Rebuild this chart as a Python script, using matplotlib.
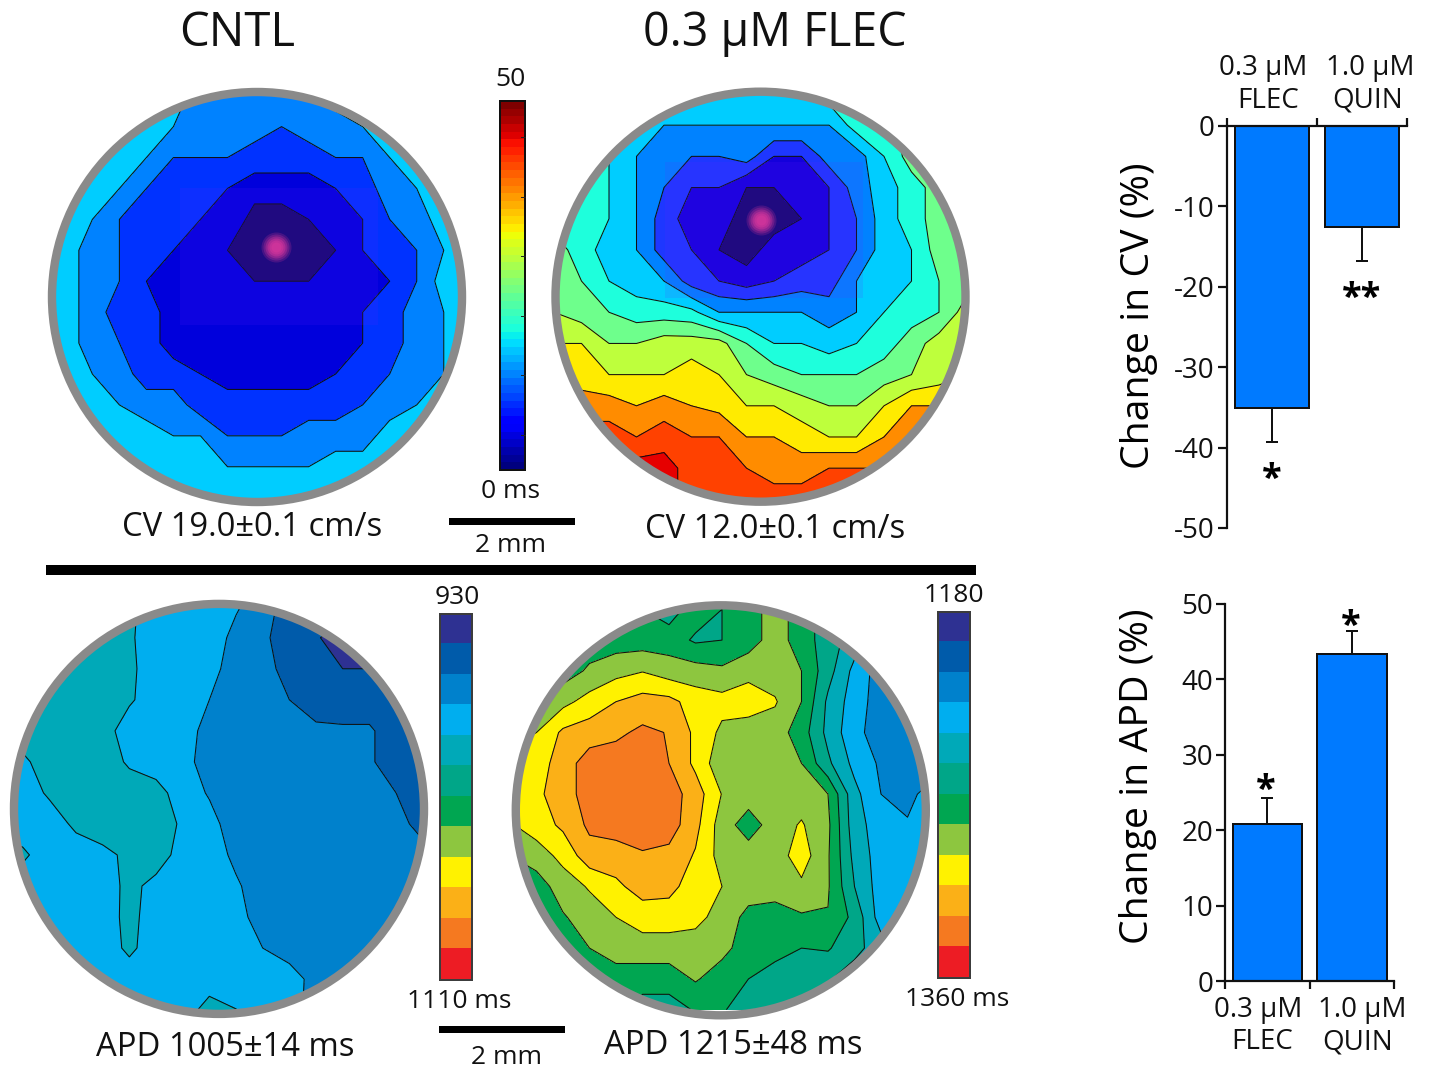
import numpy as np
import matplotlib
matplotlib.use("Agg")
import matplotlib.pyplot as plt
from matplotlib.patches import Circle, Rectangle
from matplotlib.colors import ListedColormap

plt.rcParams['font.family'] = ['Open Sans', 'DejaVu Sans']
plt.rcParams['axes.unicode_minus'] = False

# ---- band values of the four maps (one row per scan line)
cv_cntl = [
 [4,4,4,4,4,4,3,3,3,3,3,4,4,4,4,4,4],
 [4,4,4,4,4,3.5,3,3,3,2.5,3,3,3.5,4,4,4,4],
 [4,4,4,4,3.5,2.5,2.5,2.5,2,2,2,2.5,2.5,3.5,4,4,4],
 [4,4,4,3.5,2.5,2,2,1.5,1,1,1,1.5,2,3,3.5,4,4],
 [4,4,3.5,2.5,2,2,1.5,1.5,0,0,.5,1,1.5,2.5,3,4,4],
 [4,4,3,2.5,2,1.5,1,.5,0,0,0,.5,1.5,2,2.5,3.5,4],
 [4,4,3,2.5,1.5,1,1,1,.5,.5,.5,1,1,1.5,2.5,4,4],
 [4,4,3,2,2,1,1,1,1,1,1,1,1.5,2,3,3.5,4],
 [4,4,3,2.5,2,1,1,1,1,1,1,1,1.5,2,3,3.5,4],
 [4,4,3.5,3,2,2,1.5,1,1,1,1,1.5,2,2.5,3,3.5,4],
 [4,4,4,3.5,3,3,2,2,2,2,2,2,2.5,3,3.5,4,4],
 [4,4,4,4,4,3.5,3.5,2.5,2.5,2.5,3,3,3,4,4,4,4],
 [4,4,4,4,4,4,4,3.5,3.5,3.5,3.5,4,4,4,4,4,4],
 [4,4,4,4,4,4,4,4,4,4,4,4,4,4,4,4,4],
]
cv_flec = [
 [4,4,4,4,4,4,4,4,4,4,5,5,5,5,5,5],
 [4,4,4,4,3.5,3.5,3.5,3.5,3.5,3.5,3.5,5,5,6,6,6],
 [5,5,4.5,3.5,3,2.5,2.5,3,1.5,1.5,3,3,4.5,6,6,6],
 [5,5,4.5,3.5,2.5,1.5,1.5,.5,.5,1,1.5,3,4,5,6,6],
 [5,5,4.5,3.5,2,1,1,0,0,.5,1.5,2.5,4,5,6,6],
 [6,5,4,3.5,2,1.5,.5,0,1,1,1.5,2.5,4,4.5,6,6],
 [6,5.5,4.5,4,3.5,2,1.5,1,1.5,2,2,3.5,4,4.5,5.5,6],
 [6.5,6,5.5,5,5,4.8,3.5,3.5,3.5,3.5,3,3.5,4.5,5,5.5,7],
 [7.5,7.5,6.5,6.5,7,7,6.9,5.5,4.5,4.5,4,4.5,5,6,7,7],
 [8,8,7.5,7.5,7.5,8,7.5,6.5,6,5.5,5.5,5.5,6,6.5,7,7.5],
 [9,9,9,8.5,9,8.5,8.2,7.5,7.5,7,6.5,6.5,7.5,8.5,8.5,8.5],
 [10,10,10,9.5,10,9.5,9.5,8.5,8.5,8,7.5,7.5,8.5,9,9,9],
 [10,10,10,11,11,10,10,9.5,9,9,9.5,9.5,9.5,9.5,9.5,9.5],
 [10,10,10,11,11,10,10,10,10,10,10,10,10,10,10,10],
]
apd_cntl = [
 [4,4,4,4,4,3.7,3,3,3,2.6,2,1,1,1,1,1,1],
 [4,4,4,4,4,3.63,3,3,3,2.23,1.69,1,.6,0,0,0,0],
 [4,4,4,4,4,3.7,3,3,2.87,2,2,1,1,.5,.5,1,1],
 [4,4,4,4,4,3.63,3,3,2.5,2,2,1.5,1,1,1,1,1],
 [4,4,4,4,3.93,3,3,3,2.11,2,2,2,1.7,1.63,1.63,1,1],
 [3,3.3,4,4,4,3.36,3,2.89,2,2,2,2,2,2,1.63,1,1],
 [3,3,3.64,4,4,4,3.88,3,2.41,2,2,2,2,2,2,1.5,1],
 [3,3,3,3.7,4,4,4,3.36,2.83,2,2,2,2,2,2,2,1],
 [4,3.67,3,3,3.26,3.7,4,3.1,3,2.28,2,2,2,2,2,2,2],
 [3,3,3,3,3,3.77,3.2,3,3,2.63,2,2,2,2,2,2,2],
 [3,3,3,3,3,3.8,3,3,3,2.9,2,2,2,2,2,2,2],
 [3,3,3,3,3,3.7,3,3,3,3,2.5,2,2,2,2,2,2],
 [3,3,3,3,3,3,3,3,3,3,3,3,2.1,2,2,2,2],
 [3,3,3,3,3,3,3,3,3.9,3.52,3,3,2,2,2,2,2],
]
apd_flec = [
 [6,6,6,6,6,5.5,5,6,5.5,6,7,6,5,4,3,3,3],
 [6,6,6,6,6,6,6,5.35,5.5,6,7,6,5,4,3,3,3],
 [6,6,6,6.66,7.16,7.45,7,6.92,6.7,7.2,7,6.5,4.9,3.2,2,2,2],
 [7,7,7.2,7.9,8.5,8.9,8.8,8.05,7.85,8,7.6,6.5,4.3,3,2,2,2],
 [7,7.5,8.7,9,9.3,9.7,9.45,8.28,7.28,7,7,6,4.2,2.8,2,2,2],
 [8,8,9,10,10,10,9.5,8.27,6.8,7,7,6.5,4.7,3.2,2.34,2,2],
 [8,8.3,9,10,10,10,10,9,7.46,7,7,7,6.5,3.8,2.5,2.2,3],
 [7.4,8,8.7,9.7,10,10,10,8.8,7,6,7,7.6,6.7,3.9,3,2.6,3],
 [6.5,7,7.8,9.1,9,9.4,9.2,8.4,7.1,7,7,8,6.6,4.2,3,3,3],
 [6,6,7,7.6,8.3,8.9,8.8,8,7.5,7,7,7.3,6.6,4.5,3,3,3],
 [6,6,6.4,7,7.5,8,8,7.8,7.1,6.2,6,6.37,6.45,5.2,3,3,3],
 [6,6,6,6.5,7,7,7,7,6.8,6,5.9,5.5,5.6,4.8,4,4,4],
 [6,6,6,6,6,6,6,6.6,6,5.5,5,5,4.6,4,4,4,4],
 [6,6,6,6,6,5,5,5.6,5.6,5,5,5,5,4,4,4,4],
]
cv_cntl_colors = ['#16086f', '#0000dc', '#0032ff', '#0082ff', '#00cdff']
cv_flec_colors = ['#16086f', '#1400dc', '#1e37ff', '#0082ff', '#00cdff', '#1effdc',
                  '#6eff8c', '#beff3c', '#ffeb00', '#ff8c00', '#ff4100', '#e60000']
apd_colors = ['#2e3192', '#005baa', '#0081cc', '#00aeef', '#00a9b8', '#00a688',
              '#00a651', '#8dc63f', '#fff200', '#fbb017', '#f57920', '#ed1c24']

# ---- bar chart values
groups_cv = ['0.3 µM', '1.0 µM']
drugs = ['FLEC', 'QUIN']
cv_change = [-35.1, -12.6]
cv_err = [4.2, 4.2]
apd_change = [20.8, 43.4]
apd_err = [3.5, 3.0]
cv_ticks = [0, -10, -20, -30, -40, -50]
apd_ticks = [0, 10, 20, 30, 40, 50]
bar_blue = '#007aff'

W, H = 1429, 1068
px = 100 / 72
fig = plt.figure(figsize=(W / 100, H / 100), dpi=100)
bg = fig.add_axes([0, 0, 1, 1])
bg.set_axis_off()


def draw_map(grid, colors, x0, y0, dx, dy, cx, cy):
    z = np.array(grid, dtype=float)
    x = x0 + dx * np.arange(z.shape[1])
    y = y0 + dy * np.arange(z.shape[0])
    n = len(colors)
    bounds = [-1] + [i + .5 for i in range(n - 1)] + [n + 1]
    clip = Circle((cx, cy), 205, transform=bg.transData, fc='none', ec='none')
    bg.add_patch(clip)
    cf = bg.contourf(x, y, z, levels=bounds, colors=colors, zorder=2)
    cf.set_clip_path(clip)
    cl = bg.contour(x, y, z, levels=bounds[1:-1], colors='#101010', linewidths=0.75, zorder=3)
    cl.set_clip_path(clip)
    return clip


def ring(cx, cy):
    bg.add_patch(Circle((cx, cy), 205, fc='none', ec='#8a8a8a', lw=8.4 / px, zorder=6))


def overlay(x, y, w, h, clip):
    r = Rectangle((x, y), w, h, fc='#7020ff', ec='none', alpha=0.12, zorder=4)
    bg.add_patch(r)
    r.set_clip_path(clip)


def spot(cx, cy):
    for r, a in zip([15, 13, 11, 9, 7, 5], [.18, .22, .28, .32, .3, .25]):
        bg.scatter([cx], [cy], s=(2 * r / px) ** 2, c='#f03ca0', alpha=a, lw=0, zorder=5)


c1 = draw_map(cv_cntl, cv_cntl_colors, 38.3, 95.7, 27.03, 30.92, 257, 297)
overlay(180, 188, 198, 137, c1)
spot(276, 247)
ring(257, 297)
c2 = draw_map(cv_flec, cv_flec_colors, 554, 94, 27.5, 31.18, 760.5, 296.7)
overlay(665, 162, 198, 136, c2)
spot(760.7, 220)
ring(760.5, 296.7)
draw_map(apd_cntl, apd_colors, -4, 606.7, 26.67, 31.03, 219, 808.9)
ring(219, 808.9)
draw_map(apd_flec, apd_colors, 510, 609.3, 26.5, 30.8, 720.8, 810.3)
ring(720.8, 810.3)

# jet scale
jet_steps = np.linspace(0, 50, 48)[::-1].reshape(-1, 1)
bg.imshow(jet_steps, cmap='jet', extent=(500, 525, 470, 101), aspect='auto', zorder=2)
bg.add_patch(Rectangle((500, 101), 25, 369, fc='none', ec='#101010', lw=2 / px, zorder=3))
for tick in range(6):
    yy = 435 - tick * 59.6
    bg.plot([521, 525], [yy, yy], color='#202020', lw=.7, zorder=3)

# APD scales
cmap12 = ListedColormap(apd_colors)
apd_steps = np.arange(12).reshape(-1, 1)
for xl, yt, yb in [(440, 614, 979.5), (938.5, 612, 977.5)]:
    bg.imshow(apd_steps, cmap=cmap12, extent=(xl, xl + 32, yb, yt), aspect='auto',
              zorder=2, interpolation='nearest')
    bg.add_patch(Rectangle((xl, yt), 32, yb - yt, fc='none', ec='#3c3c3c', lw=2 / px, zorder=3))

bg.set_xlim(0, W)
bg.set_ylim(H, 0)

# rules and scale bars
bg.add_patch(Rectangle((46, 565), 930, 10, fc='black', ec='none', zorder=3))
bg.add_patch(Rectangle((449, 517.5), 126, 7, fc='black', ec='none', zorder=3))
bg.add_patch(Rectangle((439, 1025.5), 126, 7, fc='black', ec='none', zorder=3))

big = 28.3
mid = 23.6
small = 19
label = 20
page_text = [
    (237, 33, 'CNTL', 34), (775, 33, '0.3 µM FLEC', 33.5),
    (510, 80, '50', small), (511, 491, '0 ms', small),
    (252, 527, 'CV 19.0±0.1 cm/s', mid), (775, 529, 'CV 12.0±0.1 cm/s', mid),
    (511, 545, '2 mm', small), (457, 597, '930', small), (459, 1002, '1110 ms', small),
    (954, 596, '1180', small), (957, 999, '1360 ms', small),
    (225, 1048, 'APD 1005±14 ms', mid), (733, 1046, 'APD 1215±48 ms', mid),
    (507, 1057, '2 mm', small),
]
for x, y, s, fs in page_text:
    bg.text(x, y, s, ha='center', va='center', fontsize=fs, color='#111111', zorder=8)


def make_axes(x_left, x_right, y_top, y_bottom):
    return fig.add_axes([x_left / W, 1 - y_bottom / H, (x_right - x_left) / W, (y_bottom - y_top) / H])


def style(ax):
    for s in ax.spines.values():
        s.set_linewidth(2.2 / px)
        s.set_color('#111111')
    ax.patch.set_alpha(0)
    ax.tick_params(width=2.2 / px, length=9 / px, labelsize=label, colors='#111111', pad=2)
    ax.set_xticks([0, 1, 2])
    ax.set_xticklabels([])
    ax.set_xlim(0, 2)


# top bars
a1 = make_axes(1226.7, 1406.7, 126, 528)
style(a1)
a1.bar([.5, 1.5], cv_change, width=.825, color=bar_blue, edgecolor='#111111', linewidth=2 / px,
       yerr=[cv_err, [0, 0]], error_kw=dict(ecolor='#111111', elinewidth=2 / px, capsize=6 / px, capthick=2 / px))
a1.set_ylim(-50, 0)
a1.set_yticks(cv_ticks)
a1.spines['right'].set_visible(False)
a1.spines['bottom'].set_visible(False)
a1.xaxis.tick_top()
a1.tick_params(axis='x', length=8 / px)
a1.text(-.98, -23.6, 'Change in CV (%)', rotation=90, ha='center', va='center', fontsize=big, clip_on=False)
for g, d, xg, xq in zip(groups_cv, drugs, [1263, 1370], [1268, 1368]):
    bg.text(xg, 68, g, ha='center', va='center', fontsize=label, color='#111111', zorder=8)
    bg.text(xq, 101, d, ha='center', va='center', fontsize=label, color='#111111', zorder=8)
a1.text(.5, -44, '*', ha='center', va='center', fontsize=26, fontweight='bold', clip_on=False)
a1.text(1.5, -21.5, '**', ha='center', va='center', fontsize=26, fontweight='bold', clip_on=False)

# bottom bars
a2 = make_axes(1225, 1394.3, 604, 981)
style(a2)
a2.bar([.5, 1.5], apd_change, width=.822, color=bar_blue, edgecolor='#111111', linewidth=2 / px,
       yerr=[[0, 0], apd_err], error_kw=dict(ecolor='#111111', elinewidth=2 / px, capsize=6 / px, capthick=2 / px))
a2.set_ylim(0, 50)
a2.set_yticks(apd_ticks)
a2.spines['right'].set_visible(False)
a2.spines['top'].set_visible(False)
a2.tick_params(axis='x', length=8 / px)
a2.text(-1.03, 27.2, 'Change in APD (%)', rotation=90, ha='center', va='center', fontsize=big, clip_on=False)
for g, d, xg, xq in zip(groups_cv, drugs, [1258, 1362], [1262, 1358]):
    bg.text(xg, 1010, g, ha='center', va='center', fontsize=label, color='#111111', zorder=8)
    bg.text(xq, 1042, d, ha='center', va='center', fontsize=label, color='#111111', zorder=8)
a2.text(.48, 25.2, '*', ha='center', va='center', fontsize=26, fontweight='bold', clip_on=False)
a2.text(1.48, 47, '*', ha='center', va='center', fontsize=26, fontweight='bold', clip_on=False)

fig.savefig('out.png', dpi=100)
